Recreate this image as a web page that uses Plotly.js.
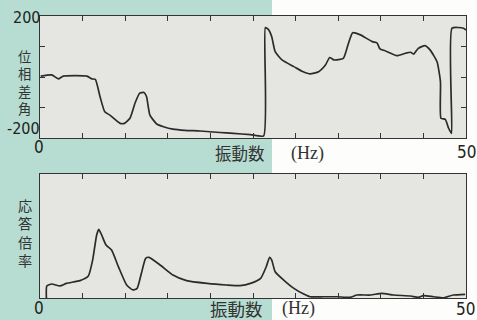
<!DOCTYPE html>
<html><head><meta charset="utf-8">
<script src="https://cdn.plot.ly/plotly-3.0.1.min.js"></script>
<style>
html,body{margin:0;padding:0;background:#fdfdfc;}
#chart{width:477px;height:320px;background:linear-gradient(to right,#b7ddd2 0px,#b7ddd2 272px,#fdfdfc 272px,#fdfdfc 477px);}
</style></head>
<body><div id="chart"></div>
<script>
// Phase difference (deg) vs frequency (Hz)
const phaseFreq = [0.08,1.37,2.15,2.74,5.5,6.07,6.5,7.04,7.6,8.2,9.4,9.9,10.56,11.15,11.7,12.2,12.5,12.9,13.7,14.5,15.6,17.0,18.8,21.1,22.7,24.7,26.25,
  26.45,26.8,27.2,27.6,28.4,29.8,30.9,31.7,32.7,33.5,34.0,34.5,35.6,36.2,36.7,37.6,39.0,39.55,39.9,40.5,41.9,42.9,43.5,43.85,44.4,45.2,45.8,46.6,47.0,47.06,47.57,47.96,48.3,
  48.36,49.7,50];
const phaseDeg = [3,7,-6,3,3,-6,-8,-64,-114,-125,-152,-152,-135,-86,-53,-51,-64,-125,-154,-163,-171,-175,-177,-182,-185,-189,-193,
  162,156,132,83,56,34,17,10,17,39,64,56,61,110,145,138,116,112,92,86,70,78,81,75,94,103,88,50,-15,-135,-139,-168,-185,
  160,160,154];
// Response magnification vs frequency (Hz)
const respFreq = [0.75,0.8,1.37,2.35,3.1,4.7,5.67,6.18,6.65,6.9,7.24,7.75,8.4,9.2,10.17,10.9,11.4,11.9,12.4,12.8,14.1,15.6,17.2,19.6,21.9,23.5,
  24.7,25.9,26.55,26.95,27.2,27.6,28.6,29.8,30.95,31.7,33.3,34.9,36.4,37.2,38.8,40.1,41.5,43.5,44.4,45.0,46.2,47.4,48.5,49.9];
const respVal = [0,0.97,1.13,0.97,1.18,1.4,1.77,3.06,5.08,5.54,5.08,4.27,3.87,2.53,1.05,0.65,0.78,1.99,3.2,3.28,2.66,1.85,1.4,1.18,1.05,1.0,
  1.18,1.59,2.52,3.28,3.06,2.12,1.45,0.78,0.32,0.1,0.1,0.1,0.05,0.24,0.24,0.38,0.24,0.16,0.05,0.19,0.1,0.02,0.24,0.3];
const topYLabel = ["位","相","差","角"];
const botYLabel = ["応","答","倍","率"];

const L=40,R=466,T=16,B=298;
const px=x=>(x-L)/(R-L), py=y=>(B-y)/(B-T);
const numFont={family:"Liberation Sans Narrow, DejaVu Sans Condensed, Liberation Sans, sans-serif",size:16,color:"#222"};
const jpFont=s=>({family:"Noto Sans CJK JP, sans-serif",size:s,color:"#333"});
const hzFont=s=>({family:"Liberation Serif, Noto Sans CJK JP, serif",size:s,color:"#333"});
const ann=(t,x,y,f)=>({text:t,xref:"paper",yref:"paper",x:px(x),y:py(y),xanchor:"center",yanchor:"middle",showarrow:false,font:f});

const annotations=[
  ann("200",26,17.5,numFont), ann("-200",23,128,numFont),
  ann("0",39,147,{...numFont,size:17}), ann("50",466,152,{...numFont,size:17}),
  ann("0",39,308,{...numFont,size:17}), ann("50",465,309,{...numFont,size:17}),
  ann("振動数",240,153,jpFont(16.5)), ann("(Hz)",307,153,hzFont(18)),
  ann("振動数",236,309,jpFont(17.5)), ann("(Hz)",298,309,hzFont(18)),
  ann(topYLabel.join("<br>"),24,82,jpFont(13.3)),
  ann(botYLabel.join("<br>"),25,232,jpFont(14.2))
];

const lineStyle={color:"#2b2b2b",width:1.7,shape:"spline",smoothing:0.5};
const data=[
  {x:phaseFreq,y:phaseDeg,type:"scatter",mode:"lines",line:lineStyle,xaxis:"x",yaxis:"y",hoverinfo:"skip",cliponaxis:true},
  {x:respFreq,y:respVal,type:"scatter",mode:"lines",line:lineStyle,xaxis:"x2",yaxis:"y2",hoverinfo:"skip",cliponaxis:true}
];
const xax=(anchor)=>({range:[0,50],dtick:5,ticks:"inside",ticklen:5,tickcolor:"#333",showline:true,mirror:"ticks",linecolor:"#333",linewidth:1.3,showgrid:false,zeroline:false,showticklabels:false,anchor:anchor,domain:[0,1]});
const layout={
  width:477,height:320,margin:{l:L,r:477-R,t:T,b:320-B},
  paper_bgcolor:"rgba(0,0,0,0)",plot_bgcolor:"#e5e5e1",showlegend:false,
  xaxis:xax("y"),
  xaxis2:xax("y2"),
  yaxis:{range:[-200,200],domain:[py(138),1],tickvals:[-100,0,100],ticks:"inside",ticklen:5,tickcolor:"#333",showline:true,mirror:"ticks",linecolor:"#333",linewidth:1.3,showgrid:false,zeroline:false,showticklabels:false,anchor:"x"},
  yaxis2:{range:[0,10],domain:[0,py(174)],ticks:"",showline:true,mirror:true,linecolor:"#333",linewidth:1.3,showgrid:false,zeroline:false,showticklabels:false,anchor:"x2"},
  annotations:annotations
};
Plotly.newPlot("chart",data,layout,{staticPlot:true,displayModeBar:false});
</script></body></html>
